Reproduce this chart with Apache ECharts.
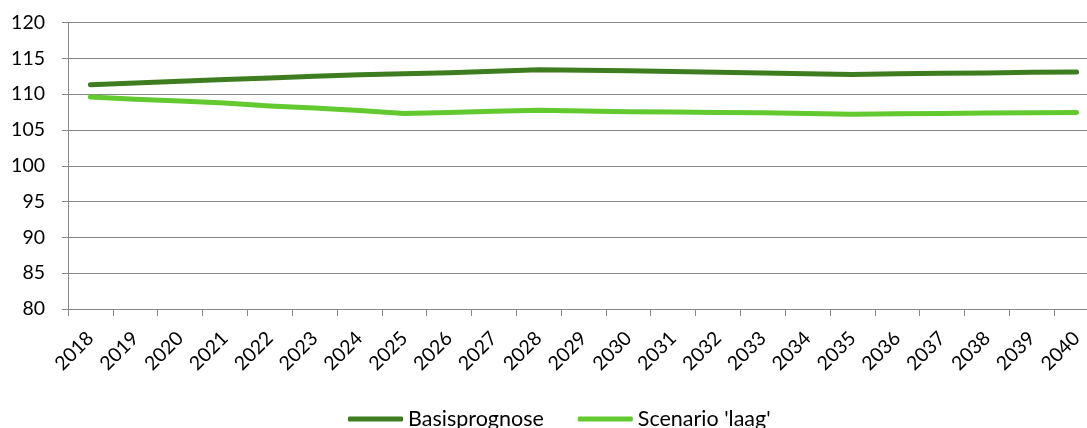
<!DOCTYPE html>
<html>
<head>
<meta charset="utf-8">
<script src="https://cdn.jsdelivr.net/npm/echarts@6/dist/echarts.min.js"></script>
<style>
html,body{margin:0;padding:0;background:#fff;}
#chart{width:1087px;height:428px;}
</style>
</head>
<body>
<div id="chart"></div>
<script>
const years = ['2018','2019','2020','2021','2022','2023','2024','2025','2026','2027','2028','2029','2030','2031','2032','2033','2034','2035','2036','2037','2038','2039','2040'];
const basisprognose = [111.3,111.55,111.8,112.05,112.25,112.5,112.7,112.85,113.0,113.2,113.4,113.35,113.25,113.15,113.05,112.95,112.85,112.75,112.85,112.9,112.95,113.05,113.1];
const scenarioLaag = [109.6,109.3,109.05,108.75,108.35,108.05,107.7,107.3,107.45,107.6,107.75,107.65,107.55,107.5,107.45,107.4,107.3,107.2,107.25,107.3,107.35,107.4,107.45];
const seriesNames = ['Basisprognose', "Scenario 'laag'"];
const yTicks = {min: 80, max: 120, interval: 5};

const FONT = 'Lato';
const chart = echarts.init(document.getElementById('chart'), null, {renderer: 'canvas'});
chart.setOption({
  animation: false,
  backgroundColor: '#ffffff',
  textStyle: {fontFamily: FONT},
  grid: {left: 68, right: -12, top: 22.5, bottom: 119, containLabel: false, outerBoundsMode: 'none'},
  legend: {
    data: seriesNames,
    left: 343,
    top: 403,
    itemWidth: 55,
    itemHeight: 5,
    itemGap: 34,
    icon: 'roundRect',
    textStyle: {fontFamily: FONT, fontSize: 21.5, color: '#000'}
  },
  xAxis: {
    type: 'category',
    data: years,
    boundaryGap: true,
    axisLine: {show: true, lineStyle: {color: '#888888', width: 1}},
    axisTick: {show: true, length: 7, alignWithLabel: false, lineStyle: {color: '#888888'}},
    axisLabel: {rotate: 45, margin: 26, fontSize: 19.5, color: '#000', fontFamily: FONT, interval: 0},
    splitLine: {show: false}
  },
  yAxis: {
    type: 'value',
    min: yTicks.min,
    max: yTicks.max,
    interval: yTicks.interval,
    axisLine: {show: true, lineStyle: {color: '#888888', width: 1}},
    axisTick: {show: true, length: 6, lineStyle: {color: '#888888'}},
    axisLabel: {margin: 23, fontSize: 19.5, color: '#000', fontFamily: FONT},
    splitLine: {show: true, lineStyle: {color: '#888888', width: 1}}
  },
  series: [
    {
      name: seriesNames[0],
      type: 'line',
      data: basisprognose,
      symbol: 'none',
      smooth: false,
      itemStyle: {color: '#3e7d1f'},
      lineStyle: {color: '#3e7d1f', width: 5, cap: 'round', join: 'round'}
    },
    {
      name: seriesNames[1],
      type: 'line',
      data: scenarioLaag,
      symbol: 'none',
      smooth: false,
      itemStyle: {color: '#62c92f'},
      lineStyle: {color: '#62c92f', width: 5, cap: 'round', join: 'round'}
    }
  ]
});
</script>
</body>
</html>
